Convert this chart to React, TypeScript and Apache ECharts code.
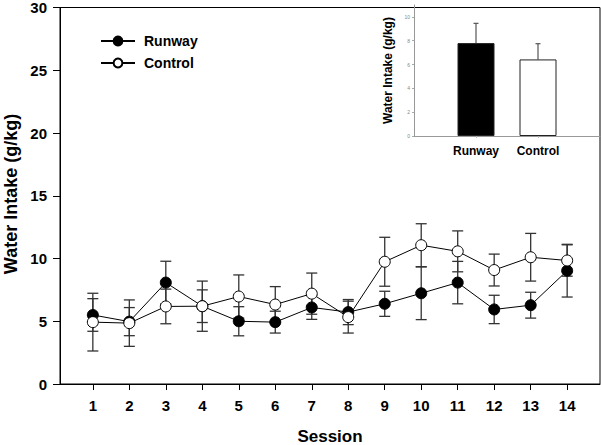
import React, { useEffect, useRef } from "react";
import * as echarts from "echarts";

const sessions = [1, 2, 3, 4, 5, 6, 7, 8, 9, 10, 11, 12, 13, 14];
const runway = [5.5, 4.97, 8.08, 6.2, 5.0, 4.93, 6.1, 5.73, 6.39, 7.23, 8.08, 5.94, 6.28, 9.03];
const runwayErr = [1.3, 1.12, 1.7, 1.3, 1.16, 0.87, 0.95, 1.0, 1.0, 2.1, 1.69, 1.13, 1.03, 2.1];
const control = [4.93, 4.85, 6.18, 6.2, 6.97, 6.33, 7.2, 5.33, 9.74, 11.06, 10.57, 9.08, 10.1, 9.84];
const controlErr = [2.3, 1.85, 1.38, 2.0, 1.72, 1.43, 1.64, 1.27, 1.95, 1.71, 1.63, 1.27, 1.9, 1.25];
const yTicks = [0, 5, 10, 15, 20, 25, 30];

const insetGroups = ["Runway", "Control"];
const insetValues = [7.8, 6.43];
const insetErr = [1.66, 1.32];
const insetTicks = [0, 2, 4, 6, 8, 10];

function errData(vals: number[], errs: number[]) {
  return sessions.map((s, i) => [s, vals[i] - errs[i], vals[i] + errs[i]]);
}

function errRender(capHalf: number) {
  return (params: any, api: any) => {
    const x = api.value(0);
    const lo = api.coord([x, api.value(1)]);
    const hi = api.coord([x, api.value(2)]);
    const style = { stroke: "#333", lineWidth: 1.3 };
    return {
      type: "group",
      children: [
        { type: "line", shape: { x1: lo[0], y1: lo[1], x2: hi[0], y2: hi[1] }, style },
        { type: "line", shape: { x1: lo[0] - capHalf, y1: lo[1], x2: lo[0] + capHalf, y2: lo[1] }, style },
        { type: "line", shape: { x1: hi[0] - capHalf, y1: hi[1], x2: hi[0] + capHalf, y2: hi[1] }, style },
      ],
    };
  };
}

export default function App() {
  const ref = useRef<HTMLDivElement>(null);
  useEffect(() => {
    if (!ref.current) return;
    const chart = echarts.init(ref.current, null, { renderer: "svg" });
    const font = "Arial, 'Liberation Sans', sans-serif";
    chart.setOption({
      animation: false,
      textStyle: { fontFamily: font },
      grid: [
        { left: 60, right: 1, top: 5, bottom: 61, show: true, borderColor: "#000", borderWidth: 1, backgroundColor: "transparent" },
        { left: 414, top: 5, width: 186, height: 131 },
      ],
      legend: {
        orient: "vertical",
        left: 100,
        top: 34,
        padding: 0,
        itemWidth: 34,
        itemHeight: 11,
        itemGap: 8,
        data: ["Runway", "Control"],
        textStyle: { fontSize: 14, fontWeight: "bold", color: "#000", fontFamily: font, padding: [0, 0, 0, 4] },
      },
      xAxis: [
        {
          type: "value",
          gridIndex: 0,
          min: 0.1,
          max: 14.9,
          splitLine: { show: false },
          axisLine: { lineStyle: { color: "#000", width: 1 } },
          axisTick: { show: true, length: 6, customValues: sessions, lineStyle: { color: "#000" } },
          axisLabel: { customValues: sessions, fontSize: 15, fontWeight: "bold", color: "#000", margin: 14, fontFamily: font },
        },
        {
          type: "value",
          gridIndex: 1,
          min: 0,
          max: 3,
          splitLine: { show: false },
          axisLine: { lineStyle: { color: "#999", width: 1 } },
          axisTick: { show: true, length: 2, customValues: [1, 2], lineStyle: { color: "#bbb" } },
          axisLabel: {
            customValues: [1, 2],
            formatter: (v: number) => insetGroups[Math.round(v) - 1] || "",
            fontSize: 12,
            fontWeight: "bold",
            color: "#000",
            margin: 9,
            fontFamily: font,
          },
        },
      ],
      yAxis: [
        {
          type: "value",
          gridIndex: 0,
          min: 0,
          max: 30,
          interval: 5,
          splitLine: { show: false },
          axisLine: { show: true, lineStyle: { color: "#000", width: 1 } },
          axisTick: { show: true, length: 7, customValues: yTicks, lineStyle: { color: "#000" } },
          axisLabel: { customValues: yTicks, fontSize: 15, fontWeight: "bold", color: "#000", margin: 13, fontFamily: font },
        },
        {
          type: "value",
          gridIndex: 1,
          min: 0,
          max: 11,
          splitLine: { show: false },
          axisLine: { show: true, lineStyle: { color: "#999", width: 1 } },
          axisTick: { show: true, length: 2, customValues: insetTicks, lineStyle: { color: "#aaa" } },
          axisLabel: { customValues: insetTicks, fontSize: 5, color: "#888", margin: 4, fontFamily: font },
        },
      ],
      series: [
        {
          type: "custom",
          name: "runwayErr",
          xAxisIndex: 0,
          yAxisIndex: 0,
          renderItem: errRender(5.5),
          data: errData(runway, runwayErr),
          z: 1,
        },
        {
          type: "custom",
          name: "controlErr",
          xAxisIndex: 0,
          yAxisIndex: 0,
          renderItem: errRender(5.5),
          data: errData(control, controlErr),
          z: 1,
        },
        {
          type: "line",
          name: "Runway",
          xAxisIndex: 0,
          yAxisIndex: 0,
          data: sessions.map((s, i) => [s, runway[i]]),
          symbol: "circle",
          symbolSize: 11,
          lineStyle: { color: "#000", width: 1 },
          itemStyle: { color: "#000", borderColor: "#000", borderWidth: 1 },
          z: 3,
        },
        {
          type: "line",
          name: "Control",
          xAxisIndex: 0,
          yAxisIndex: 0,
          data: sessions.map((s, i) => [s, control[i]]),
          symbol: "circle",
          symbolSize: 11,
          lineStyle: { color: "#000", width: 1 },
          itemStyle: { color: "#fff", borderColor: "#000", borderWidth: 1 },
          z: 4,
        },
        {
          type: "custom",
          name: "insetErr",
          xAxisIndex: 1,
          yAxisIndex: 1,
          renderItem: (params: any, api: any) => {
            const x = api.value(0);
            const lo = api.coord([x, api.value(1)]);
            const hi = api.coord([x, api.value(2)]);
            const style = { stroke: "#555", lineWidth: 1.2 };
            return {
              type: "group",
              children: [
                { type: "line", shape: { x1: lo[0], y1: lo[1], x2: hi[0], y2: hi[1] }, style },
                { type: "line", shape: { x1: hi[0] - 2.5, y1: hi[1], x2: hi[0] + 2.5, y2: hi[1] }, style },
              ],
            };
          },
          data: insetValues.map((v, i) => [i + 1, v, v + insetErr[i]]),
          z: 1,
        },
        {
          type: "bar",
          name: "inset",
          xAxisIndex: 1,
          yAxisIndex: 1,
          barWidth: 37,
          data: insetValues.map((v, i) => ({
            value: [i + 1, v],
            itemStyle: { color: i === 0 ? "#000" : "#fff", borderColor: "#222", borderWidth: 1 },
          })),
          z: 2,
        },
      ],
      graphic: [
        {
          type: "text",
          x: 10.5,
          y: 194,
          rotation: Math.PI / 2,
          style: {
            text: "Water Intake (g/kg)",
            fontSize: 18,
            fontWeight: "bold",
            fontFamily: font,
            fill: "#000",
            textAlign: "center",
            textVerticalAlign: "middle",
          },
        },
        {
          type: "text",
          x: 330,
          y: 436,
          style: {
            text: "Session",
            fontSize: 17,
            fontWeight: "bold",
            fontFamily: font,
            fill: "#000",
            textAlign: "center",
            textVerticalAlign: "middle",
          },
        },
        {
          type: "text",
          x: 387.5,
          y: 70.5,
          rotation: Math.PI / 2,
          style: {
            text: "Water Intake (g/kg)",
            fontSize: 12,
            fontWeight: "bold",
            fontFamily: font,
            fill: "#000",
            textAlign: "center",
            textVerticalAlign: "middle",
          },
        },
      ],
    });
    return () => chart.dispose();
  }, []);
  return <div ref={ref} style={{ width: 601, height: 445, position: "absolute", left: 0, top: 0, background: "#fff" }} />;
}
